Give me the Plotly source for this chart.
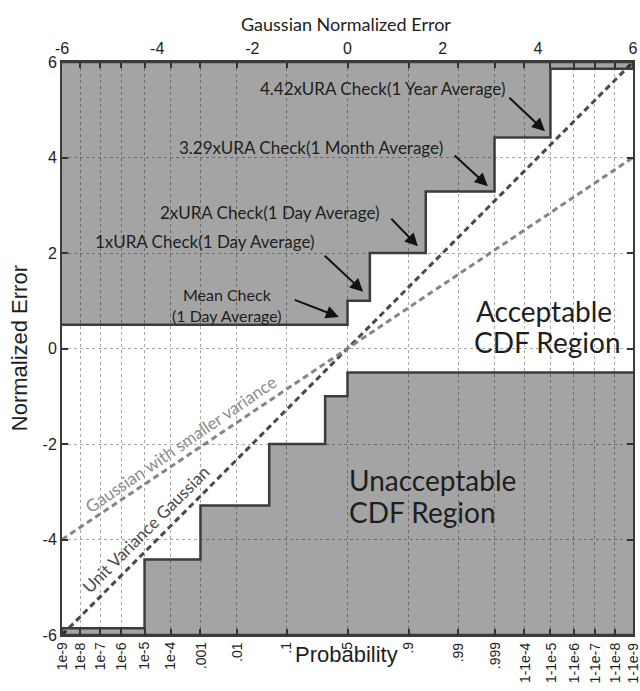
import plotly.graph_objects as go

# ---- data ----
prob_labels = ["1e-9", "1e-8", "1e-7", "1e-6", "1e-5", "1e-4", ".001", ".01", ".1", ".5",
               ".9", ".99", ".999", "1-1e-4", "1-1e-5", "1-1e-6", "1-1e-7", "1-1e-8", "1-1e-9"]
prob_pos = [-5.998, -5.612, -5.199, -4.753, -4.265, -3.719, -3.090, -2.326, -1.282, 0.0,
            1.282, 2.326, 3.090, 3.719, 4.265, 4.753, 5.199, 5.612, 5.998]
top_ticks = [-6, -4, -2, 0, 2, 4, 6]
top_labels = ["-6", "-4", "-2", "0", "2", "4", "6"]
y_ticks = [-6, -4, -2, 0, 2, 4, 6]
y_labels = ["-6", "-4", "-2", "0", "2", "4", "6"]

upper_x = [-6, 0, 0, 0.47, 0.47, 1.645, 1.645, 3.09, 3.09, 4.265, 4.265, 6, 6, -6]
upper_y = [0.5, 0.5, 1, 1, 2, 2, 3.29, 3.29, 4.42, 4.42, 5.86, 5.86, 6, 6]
lower_x = [6, 0, 0, -0.47, -0.47, -1.645, -1.645, -3.09, -3.09, -4.265, -4.265, -6, -6, 6]
lower_y = [-0.5, -0.5, -1, -1, -2, -2, -3.29, -3.29, -4.42, -4.42, -5.86, -5.86, -6, -6]

unit_x = [-6, 6]
unit_y = [-6, 6]
small_x = [-6, 6]
small_y = [-4, 4]

# check labels: (text, text_x, text_y, anchor, arrow_tail_x, arrow_tail_y, arrow_head_x, arrow_head_y)
checks = [
    ("4.42xURA Check(1 Year Average)", 3.35, 5.45, "right", 3.37, 5.28, 4.15, 4.55),
    ("3.29xURA Check(1 Month Average)", 2.05, 4.21, "right", 2.22, 4.07, 2.95, 3.40),
    ("2xURA Check(1 Day Average)", 0.72, 2.85, "right", 0.89, 2.75, 1.48, 2.14),
    ("1xURA Check(1 Day Average)", -0.64, 2.24, "right", -0.51, 1.97, 0.33, 1.19),
]
mean_text = ("Mean Check<br>(1 Day Average)", -2.53, 0.92)
mean_arrow = (-1.14, 1.03, -0.18, 0.66)

region_lines = [
    ("Acceptable", 2.66, 0.78),
    ("CDF Region", 2.62, 0.13),
    ("Unacceptable", -0.01, -2.75),
    ("CDF Region", -0.01, -3.42),
]

FILL = "rgba(0,0,0,0.355)"
EDGE = "#3c3c3c"
ANN_FONT = "Lato"
AX_FONT = "Liberation Sans"
TXT = "#1e1e1e"

fig = go.Figure()

fig.add_trace(go.Scatter(x=unit_x, y=unit_y, mode="lines",
                         line=dict(color="#4a4a4a", width=3, dash="6px,4px"),
                         showlegend=False, hoverinfo="skip"))
fig.add_trace(go.Scatter(x=small_x, y=small_y, mode="lines",
                         line=dict(color="#858585", width=3, dash="6px,4px"),
                         showlegend=False, hoverinfo="skip"))
fig.add_trace(go.Scatter(x=upper_x, y=upper_y, mode="lines", fill="toself",
                         fillcolor=FILL, line=dict(color=EDGE, width=2.5),
                         showlegend=False, hoverinfo="skip"))
fig.add_trace(go.Scatter(x=lower_x, y=lower_y, mode="lines", fill="toself",
                         fillcolor=FILL, line=dict(color=EDGE, width=2.5),
                         showlegend=False, hoverinfo="skip"))
# invisible trace for the top axis
fig.add_trace(go.Scatter(x=[-6, 6], y=[0, 0], xaxis="x2", mode="lines",
                         line=dict(width=0), opacity=0, showlegend=False, hoverinfo="skip"))

annotations = []
arrow_style = dict(showarrow=True, arrowhead=2, arrowsize=1.3, arrowwidth=2, arrowcolor="#111")
for text, tx, ty, anc, ax_, ay_, hx, hy in checks:
    annotations.append(dict(x=tx, y=ty, xref="x", yref="y", text=text, showarrow=False,
                            xanchor=anc, yanchor="middle",
                            font=dict(family=ANN_FONT, size=17, color=TXT)))
    annotations.append(dict(x=hx, y=hy, ax=ax_, ay=ay_, xref="x", yref="y",
                            axref="x", ayref="y", text="", **arrow_style))
annotations.append(dict(x=mean_text[1], y=mean_text[2], xref="x", yref="y", text=mean_text[0],
                        showarrow=False, xanchor="center", yanchor="middle", align="center",
                        font=dict(family=ANN_FONT, size=16, color=TXT)))
annotations.append(dict(x=mean_arrow[2], y=mean_arrow[3], ax=mean_arrow[0], ay=mean_arrow[1],
                        xref="x", yref="y", axref="x", ayref="y", text="", **arrow_style))

for text, tx, ty in region_lines:
    annotations.append(dict(x=tx, y=ty, xref="x", yref="y", text=text, showarrow=False,
                            xanchor="left", yanchor="middle",
                            font=dict(family=ANN_FONT, size=28, color=TXT)))

# bottom probability tick labels (rotated, end at the axis)
for lab, pos in zip(prob_labels, prob_pos):
    annotations.append(dict(x=pos, y=-0.009, xref="x", yref="paper", text=lab,
                            showarrow=False, textangle=-90, xanchor="center", yanchor="top",
                            font=dict(family=AX_FONT, size=14, color=TXT)))

annotations += [
    dict(x=-3.52, y=-2.0, xref="x", yref="y", text="Gaussian with smaller variance",
         showarrow=False, textangle=-34.5,
         font=dict(family=ANN_FONT, size=17, color="#8c8c8c")),
    dict(x=-4.25, y=-3.78, xref="x", yref="y", text="Unit Variance Gaussian",
         showarrow=False, textangle=-45,
         font=dict(family=ANN_FONT, size=17, color="#4a4a4a")),
    dict(x=0.497, y=1.066, xref="paper", yref="paper", text="Gaussian Normalized Error",
         showarrow=False, xanchor="center", yanchor="middle",
         font=dict(family=ANN_FONT, size=18, color=TXT)),
    dict(x=0.499, y=-0.034, xref="paper", yref="paper", text="Probability",
         showarrow=False, xanchor="center", yanchor="middle",
         font=dict(family=AX_FONT, size=22, color=TXT)),
    dict(x=-0.074, y=0.5, xref="paper", yref="paper", text="Normalized Error",
         showarrow=False, textangle=-90, xanchor="center", yanchor="middle",
         font=dict(family=AX_FONT, size=22, color=TXT)),
]

fig.update_layout(
    width=640, height=691,
    margin=dict(l=62, r=7, t=62, b=56, autoexpand=False),
    paper_bgcolor="white", plot_bgcolor="white",
    showlegend=False,
    annotations=annotations,
    xaxis=dict(range=[-6, 6], tickmode="array", tickvals=prob_pos, showticklabels=False,
               ticks="inside", ticklen=6, tickwidth=1.5, tickcolor="#333",
               showline=True, linecolor="#3a3a3a", linewidth=2, mirror="ticks",
               showgrid=True, gridcolor="#a8a8a8", griddash="dot", gridwidth=1,
               zeroline=False),
    xaxis2=dict(range=[-6, 6], overlaying="x", side="top", tickmode="array",
                tickvals=top_ticks, ticktext=top_labels, ticks="", showgrid=False,
                zeroline=False, showline=False, ticklabelstandoff=4,
                tickfont=dict(family=AX_FONT, size=16, color=TXT)),
    yaxis=dict(range=[-6, 6], tickmode="array", tickvals=y_ticks, ticktext=y_labels,
               ticks="inside", ticklen=6, tickwidth=1.5, tickcolor="#333",
               showline=True, linecolor="#3a3a3a", linewidth=2, mirror="ticks",
               showgrid=True, gridcolor="#a8a8a8", griddash="dot", gridwidth=1,
               zeroline=False, tickfont=dict(family=AX_FONT, size=16, color=TXT)),
)

fig.write_html("out.html")
